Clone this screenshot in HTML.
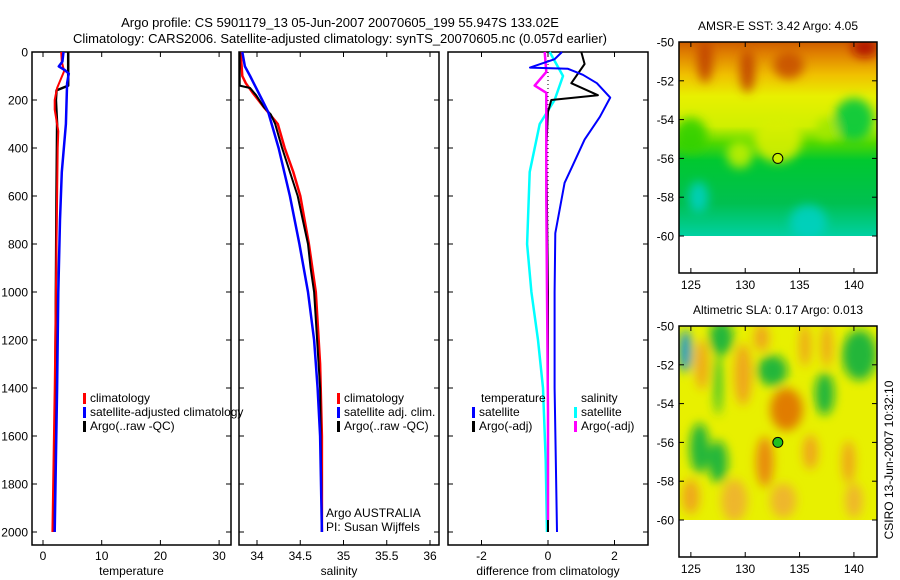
<!DOCTYPE html>
<html><head><meta charset="utf-8">
<style>
html,body{margin:0;padding:0;background:#fff;}
svg{display:block;font-family:"Liberation Sans",sans-serif;}
</style></head>
<body>
<svg id="fig" width="900" height="580" viewBox="0 0 900 580">
<defs>
<filter id="blur" x="-30%" y="-30%" width="160%" height="160%"><feGaussianBlur stdDeviation="5"/></filter>
<clipPath id="clipM1"><rect x="679" y="42" width="198" height="194"/></clipPath>
<clipPath id="clipM2"><rect x="679" y="326" width="198" height="194"/></clipPath>
<linearGradient id="sstGrad" x1="0" y1="0" x2="0" y2="1">
<stop offset="0" stop-color="#c04000"/><stop offset="0.1" stop-color="#e08000"/>
<stop offset="0.2" stop-color="#f0c000"/><stop offset="0.3" stop-color="#e8f000"/>
<stop offset="0.44" stop-color="#d0f000"/><stop offset="0.52" stop-color="#50d800"/>
<stop offset="0.6" stop-color="#00c830"/><stop offset="0.8" stop-color="#00c050"/>
<stop offset="0.95" stop-color="#00d0a0"/><stop offset="1" stop-color="#00d8c0"/>
</linearGradient>
</defs>
<text x="340" y="27" font-size="13" text-anchor="middle">Argo profile: CS 5901179_13 05-Jun-2007 20070605_199 55.947S 133.02E</text>
<text x="340" y="43" font-size="13" text-anchor="middle">Climatology: CARS2006. Satellite-adjusted climatology: synTS_20070605.nc (0.057d earlier)</text>
<g id="plots"></g>
<text transform="translate(893,460) rotate(-90)" font-size="12" text-anchor="middle">CSIRO 13-Jun-2007 10:32:10</text>
</svg>
<script>
// ---- data ----
const depthTicks = [0,200,400,600,800,1000,1200,1400,1600,1800,2000];
const tempTicks = [0,10,20,30];
const salTicks = [34,34.5,35,35.5,36];
const salTickLabels = ["34","34.5","35","35.5","36"];
const diffTicks = [-2,0,2];
const lonTicks = [125,130,135,140];
const latTicks = [-50,-52,-54,-56,-58,-60];

const tClimDepth = [0,40,80,150,200,240,330,400,600,1000,1400,2000];
const tClimVal   = [3.1,3.2,3.6,2.4,2.0,2.0,2.6,2.5,2.4,2.2,2.0,1.6];
const tSatDepth = [0,40,60,75,90,130,300,500,700,1000,1400,2000];
const tSatVal   = [3.5,3.3,2.7,3.7,4.4,4.1,3.9,3.2,2.9,2.6,2.4,2.0];
const tArgoDepth = [0,140,160,200,300,600,1000,1400,2000];
const tArgoVal   = [4.3,4.3,2.3,2.2,2.4,2.3,2.2,2.1,1.8];

const sClimDepth = [0,100,130,170,230,300,400,500,600,800,1000,1300,1600,2000];
const sClimVal   = [33.81,33.83,33.87,33.95,34.08,34.24,34.32,34.42,34.50,34.60,34.68,34.73,34.75,34.75];
const sSatDepth = [0,60,100,200,250,400,600,800,1000,1200,1400,1600,2000];
const sSatVal   = [33.83,33.86,33.92,34.06,34.13,34.25,34.38,34.49,34.59,34.66,34.70,34.73,34.75];
const sArgoDepth = [0,140,150,180,230,260,300,400,500,600,700,800,900,1000,1400,2000];
const sArgoVal   = [33.80,33.80,33.92,33.99,34.08,34.16,34.21,34.29,34.38,34.47,34.53,34.59,34.62,34.66,34.73,34.75];

const dTSatDepth = [0,30,65,70,95,130,190,270,365,480,545,755,1000,1400,2000];
const dTSatVal   = [0.42,0.2,-0.54,0.6,1.05,1.47,1.87,1.56,1.1,0.72,0.5,0.22,0.2,0.2,0.27];
const dTArgoDepth = [0,50,130,180,200,250,400,1000,1500,2000];
const dTArgoVal   = [1.0,1.1,0.7,1.5,0.1,0.0,-0.05,0.0,0.0,0.0];
const dSSatDepth = [0,100,200,300,500,800,1000,1200,1400,1700,2000];
const dSSatVal   = [0.05,0.45,0.2,-0.25,-0.55,-0.63,-0.5,-0.3,-0.15,-0.07,-0.03];
const dSArgoDepth = [0,83,140,170,250,600,1000,1500,1950];
const dSArgoVal   = [-0.1,-0.05,-0.4,-0.05,-0.05,-0.05,-0.03,0.0,0.0];

const sstBlobLon = [126.3,130.2,134,141,133,125,140,125.7,135.8,129.5,137.5];
const sstBlobLat = [-51,-51.5,-51.2,-50.3,-55,-54.8,-54,-58,-59.3,-55.8,-54.5];
const sstBlobRx  = [0.7,0.7,1.4,1.2,2.2,1.5,1.8,0.9,1.7,1.2,1];
const sstBlobRy  = [1.1,1.1,0.7,0.5,1.2,0.9,1.1,0.8,0.9,0.7,0.6];
const sstBlobCol = ["#c04000","#c04000","#c85000","#b01000","#d8f000","#30d000","#00c840","#00d0c0","#00d0c0","#c0f000","#a0e800"];

const slaBlobLon = [124.5,127.8,140.5,132.5,137.3,125.8,127.5,127.5,133.8,131.8,129.8,126,125,129,136,133.5,139.5,137.5,135.5,131.5,140];
const slaBlobLat = [-51.3,-50.6,-51.5,-52.3,-53.5,-56.3,-57,-53,-54.3,-57,-52.5,-52,-58.8,-59,-56.5,-59,-57,-51,-51,-50.6,-59];
const slaBlobRx  = [0.6,1.1,1.6,1.4,0.9,0.9,0.9,0.4,1.5,0.8,0.8,0.6,0.8,1.2,0.7,1.2,0.6,0.5,0.5,0.7,0.8];
const slaBlobRy  = [1.1,0.9,1.3,0.8,1.1,1.3,1.1,1.6,1.1,1.3,1.6,1.3,0.9,1.1,0.9,0.9,1.1,1.1,1.1,0.7,0.9];
const slaBlobCol = ["#1090e0","#10b040","#10b040","#10b040","#10b040","#10b040","#10b040","#30c030","#e07000","#e88010","#f0a020","#f0a020","#f0a020","#f0b030","#f0a020","#f0b030","#f0a020","#f0a020","#f0a020","#f0a020","#f0b030"];

// ---- drawing ----
const NS="http://www.w3.org/2000/svg";
const root=document.getElementById('plots');
function mk(tag,attrs,parent){const e=document.createElementNS(NS,tag);for(const k in attrs)e.setAttribute(k,attrs[k]);(parent||root).appendChild(e);return e;}
const TOP=52, BOT=545;
const yD = d => TOP + d*0.24;
const panels = [
 {x0:32,x1:231,fx:v=>43+v*5.87,ticks:tempTicks,labels:tempTicks.map(String),xlabel:"temperature",name:"temperature-panel"},
 {x0:239,x1:439,fx:v=>257+(v-34)*86.5,ticks:salTicks,labels:salTickLabels,xlabel:"salinity",name:"salinity-panel"},
 {x0:448,x1:648,fx:v=>548+v*33.25,ticks:diffTicks,labels:diffTicks.map(String),xlabel:"difference from climatology",name:"difference-panel"}
];
panels.forEach((p,i)=>{
  const g=mk('g',{});
  
  
  const fr=mk('rect',{x:p.x0,y:TOP,width:p.x1-p.x0,height:BOT-TOP,fill:'none',stroke:'#000','stroke-width':1.5},g);
  
  
  depthTicks.forEach(d=>{
    const y=yD(d);
    mk('line',{x1:p.x0,x2:p.x0+5,y1:y,y2:y,stroke:'#000'},g);
    mk('line',{x1:p.x1,x2:p.x1-5,y1:y,y2:y,stroke:'#000'},g);
    if(i===0){const t=mk('text',{x:p.x0-4,y:y+4.5,'font-size':12,'text-anchor':'end'},g);t.textContent=String(d);
      
      }
  });
  p.ticks.forEach((v,k)=>{
    const x=p.fx(v);
    mk('line',{x1:x,x2:x,y1:BOT,y2:BOT-5,stroke:'#000'},g);
    mk('line',{x1:x,x2:x,y1:TOP,y2:TOP+5,stroke:'#000'},g);
    const t=mk('text',{x:x,y:BOT+15,'font-size':12,'text-anchor':'middle'},g);t.textContent=p.labels[k];
    
    
  });
  const xl=mk('text',{x:(p.x0+p.x1)/2,y:575,'font-size':12,'text-anchor':'middle'},g);xl.textContent=p.xlabel;
  
  
});
function series(p,depths,vals,color,w,name){
  const pts=depths.map((d,k)=>p.fx(vals[k]).toFixed(1)+','+yD(d).toFixed(1)).join(' ');
  const l=mk('polyline',{points:pts,fill:'none',stroke:color,'stroke-width':w,'stroke-linejoin':'round'});
  
  
}
const [P1,P2,P3]=panels;
series(P1,tArgoDepth,tArgoVal,'#000',2.5,'temp-argo-line');
series(P1,tClimDepth,tClimVal,'#f00',2,'temp-climatology-line');
series(P1,tSatDepth,tSatVal,'#00f',2.5,'temp-satellite-line');
series(P2,sClimDepth,sClimVal,'#f00',2.5,'sal-climatology-line');
series(P2,sArgoDepth,sArgoVal,'#000',2,'sal-argo-line');
series(P2,sSatDepth,sSatVal,'#00f',2.5,'sal-satellite-line');
const zl=mk('line',{x1:P3.fx(0),x2:P3.fx(0),y1:yD(0),y2:yD(2000),stroke:'#000','stroke-dasharray':'1,3'});


series(P3,dSSatDepth,dSSatVal,'#0ff',2.5,'sal-diff-satellite-line');
series(P3,dTArgoDepth,dTArgoVal,'#000',2,'temp-diff-argo-line');
series(P3,dSArgoDepth,dSArgoVal,'#f0f',2.5,'sal-diff-argo-line');
series(P3,dTSatDepth,dTSatVal,'#00f',2,'temp-diff-satellite-line');

function legend(x,y,color,label){
  const g=mk('g',{});
  
  
  if(color) mk('rect',{x:x,y:y-9,width:3,height:11,fill:color},g);
  const t=mk('text',{x:x+7,y:y,'font-size':12},g);t.textContent=label;
}
legend(83,402,'#f00','climatology');
legend(83,416,'#00f','satellite-adjusted climatology');
legend(83,430,'#000','Argo(..raw -QC)');
legend(337,402,'#f00','climatology');
legend(337,416,'#00f','satellite adj. clim.');
legend(337,430,'#000','Argo(..raw -QC)');
legend(474,402,null,'temperature');
legend(472,416,'#00f','satellite');
legend(472,430,'#000','Argo(-adj)');
legend(574,402,null,'salinity');
legend(574,416,'#0ff','satellite');
legend(574,430,'#f0f','Argo(-adj)');
const a1=mk('text',{x:326,y:517,'font-size':12});a1.textContent='Argo AUSTRALIA';


const a2=mk('text',{x:326,y:531,'font-size':12});a2.textContent='PI: Susan Wijffels';



// maps
const MX0=679, MX1=877;
const lonX = lon => 680 + (lon-124)*10.87;
function mapPanel(top,title,name,base,blobLon,blobLat,blobRx,blobRy,blobCol,clip,markerCol){
  const latY = lat => top + (-50-lat)*19.4;
  const g=mk('g',{});
  
  
  const cg=mk('g',{'clip-path':'url(#'+clip+')'},g);
  mk('rect',{x:MX0-10,y:top-10,width:220,height:214,fill:base},cg);
  const bg=mk('g',{filter:'url(#blur)'},cg);
  blobLon.forEach((lon,k)=>{
    const e=mk('ellipse',{cx:lonX(lon),cy:latY(blobLat[k]),rx:blobRx[k]*10.87,ry:blobRy[k]*19.4,fill:blobCol[k],'fill-opacity':0.9},bg);
    
    
  });
  const bottom=top+231;
  mk('rect',{x:MX0,y:top,width:MX1-MX0,height:bottom-top,fill:'none',stroke:'#000','stroke-width':1.5},g);
  lonTicks.forEach(lon=>{
    const x=lonX(lon);
    mk('line',{x1:x,x2:x,y1:bottom,y2:bottom-5,stroke:'#000'},g);
    mk('line',{x1:x,x2:x,y1:top,y2:top+5,stroke:'#000'},g);
    const t=mk('text',{x:x,y:bottom+16,'font-size':12,'text-anchor':'middle'},g);t.textContent=String(lon);
    
    
  });
  latTicks.forEach(lat=>{
    const y=latY(lat);
    mk('line',{x1:MX0,x2:MX0+5,y1:y,y2:y,stroke:'#000'},g);
    mk('line',{x1:MX1,x2:MX1-5,y1:y,y2:y,stroke:'#000'},g);
    const t=mk('text',{x:MX0-5,y:y+4.5,'font-size':12,'text-anchor':'end'},g);t.textContent=String(lat);
    
    
  });
  const m=mk('circle',{cx:lonX(133),cy:latY(-56),r:5,fill:markerCol,stroke:'#000'},g);
  
  
  const tt=mk('text',{x:778,y:top-12,'font-size':12,'text-anchor':'middle'},g);tt.textContent=title;
  
  
}
mapPanel(42,'AMSR-E SST: 3.42 Argo: 4.05','sst-map','url(#sstGrad)',sstBlobLon,sstBlobLat,sstBlobRx,sstBlobRy,sstBlobCol,'clipM1','#c8f000');
mapPanel(326,'Altimetric SLA: 0.17 Argo: 0.013','sla-map','#e8f000',slaBlobLon,slaBlobLat,slaBlobRx,slaBlobRy,slaBlobCol,'clipM2','#20c020');
</script>
</body></html>
